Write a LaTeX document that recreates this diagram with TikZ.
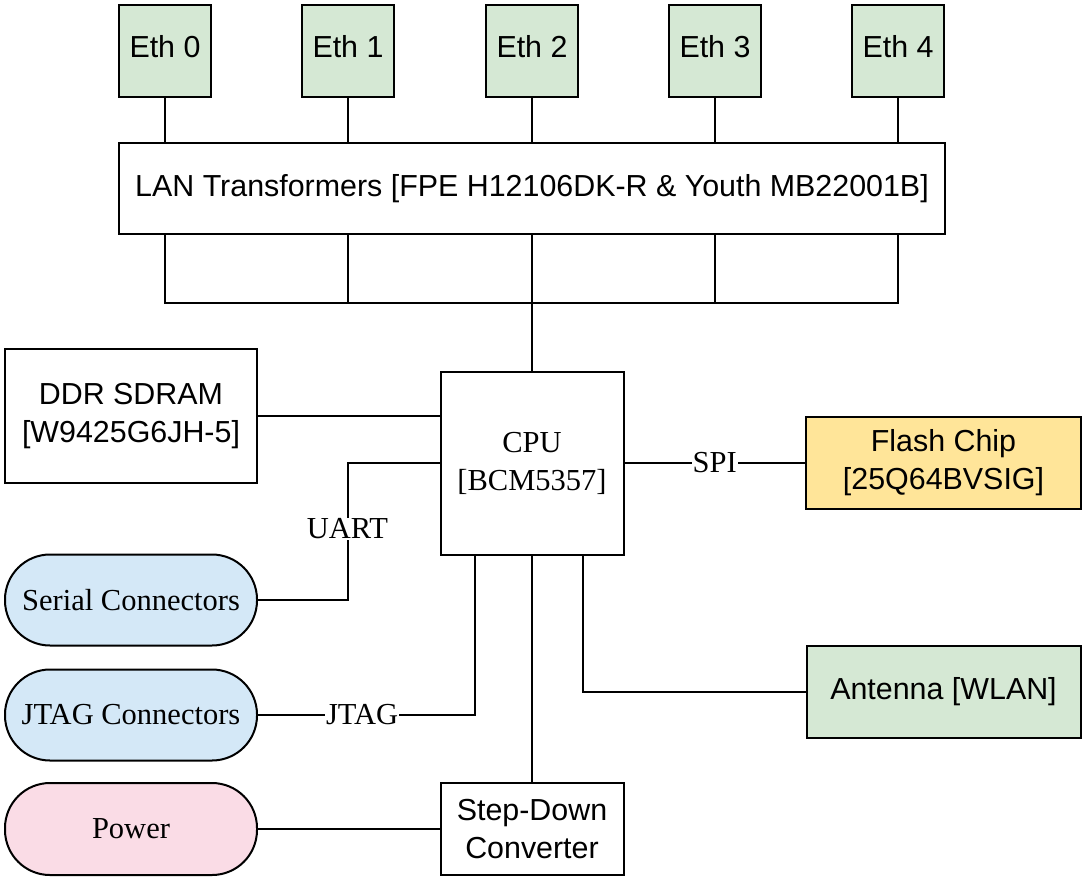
\documentclass[tikz,border=0pt]{standalone}
\usepackage{fontspec}
\setmainfont{Liberation Serif}
\newfontfamily\arialf{Liberation Sans}
\definecolor{gfill}{HTML}{D5E8D4}
\definecolor{bfill}{HTML}{D4E8F7}
\definecolor{pfill}{HTML}{FADCE6}
\definecolor{yfill}{HTML}{FFE599}
\begin{document}
\begin{tikzpicture}[x=1pt,y=-1pt,line width=2pt,
  box/.style={draw=black,inner sep=0pt,align=center,font=\arialf\fontsize{30.4}{38}\selectfont},
  serifbox/.style={draw=black,inner sep=0pt,align=center,font=\fontsize{30.5}{38}\selectfont},
  pill/.style={serifbox,rounded corners=45pt,minimum width=252pt,minimum height=91pt},
  lbl/.style={fill=white,inner sep=1pt,font=\fontsize{30.5}{36}\selectfont}]
\useasboundingbox (0,0) rectangle (1083,878);
% Ethernet ports
\node[box,fill=gfill,minimum width=92pt,minimum height=92pt] (e0) at (165,51) {};
\node[box,fill=gfill,minimum width=92pt,minimum height=92pt] (e1) at (348,51) {};
\node[box,fill=gfill,minimum width=92pt,minimum height=92pt] (e2) at (532,51) {};
\node[box,fill=gfill,minimum width=92pt,minimum height=92pt] (e3) at (715,51) {};
\node[box,fill=gfill,minimum width=92pt,minimum height=92pt] (e4) at (898,51) {};
\foreach \e/\t in {e0/0,e1/1,e2/2,e3/3,e4/4} {\node[font=\arialf\fontsize{30.4}{38}\selectfont,inner sep=0pt] (\e t) at ([yshift=4pt]\e.center) {Eth \t};}
\node[box,minimum width=826pt,minimum height=91pt] (lan) at (532,188.5) {LAN Transformers [FPE H12106DK-R \& Youth MB22001B]};
\node[box,minimum width=252pt,minimum height=134pt] (ddr) at (131,416) {DDR SDRAM\\{}[W9425G6JH-5]};
\node[serifbox,minimum width=183pt,minimum height=183pt] (cpu) at (532,463) {CPU\\{}[BCM5357]};
\node[box,fill=yfill,minimum width=275pt,minimum height=92pt] (flash) at (943.5,463) {Flash Chip\\{}[25Q64BVSIG]};
\node[box,fill=gfill,minimum width=274pt,minimum height=92pt] (ant) at (943.5,692) {Antenna [WLAN]};
\node[box,minimum width=183pt,minimum height=92pt] (step) at (532,829) {Step-Down\\Converter};
\node[pill,fill=bfill] (serial) at (131,600) {Serial Connectors};
\node[pill,fill=bfill] (jtag) at (131,715) {JTAG Connectors};
\node[pill,fill=pfill,minimum height=92pt] (power) at (131,829) {Power};
\coordinate (bus) at (0,303);
% Eth to LAN
\foreach \e in {e0,e1,e2,e3,e4} {\draw (\e.south) -- (\e.south |- lan.north);}
% LAN to bus
\draw (lan.south -| e0) -- (e0 |- bus) -- (e4 |- bus) -- (lan.south -| e4);
\foreach \e in {e1,e2,e3} {\draw (lan.south -| \e) -- (\e |- bus);}
\draw (e2 |- bus) -- (cpu.north);
% CPU links
\draw (ddr.east) -- (ddr.east -| cpu.west);
\draw (cpu.west) -- ++(-92,0) |- (serial.east) node[lbl,pos=0.24] {UART};
\draw (jtag.east) -| ([xshift=-57pt]cpu.south) node[lbl,pos=0.24] {JTAG};
\draw (cpu.east) -- (flash.west) node[lbl,midway] {SPI};
\draw ([xshift=51pt]cpu.south) |- (ant.west);
\draw (cpu.south) -- (step.north);
\draw (power.east) -- (step.west);
\end{tikzpicture}
\end{document}
